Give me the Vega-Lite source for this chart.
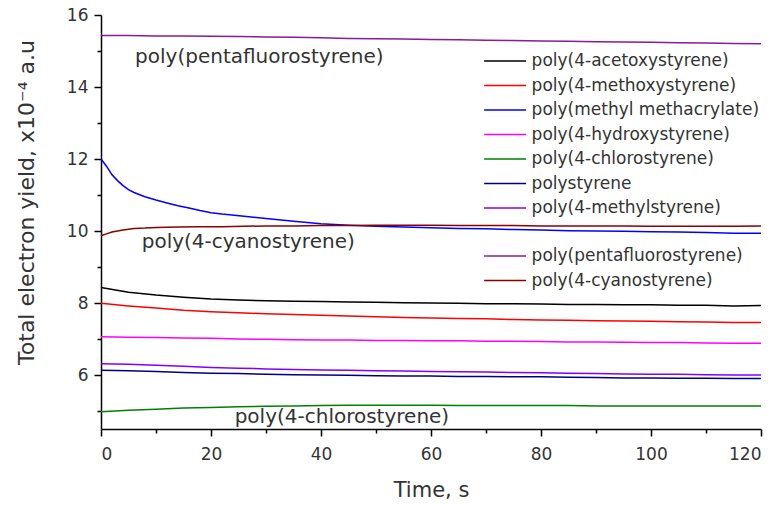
{
"$schema": "https://vega.github.io/schema/vega-lite/v6.json",
"width": 660, "height": 414,
"autosize": {"type": "none"},
"padding": {"left": 101, "top": 15, "right": 15, "bottom": 76},
"background": "white",
"config": {"view": {"stroke": null}, "font": "DejaVu Sans",
  "axis": {"grid": false, "domainColor": "black", "domainWidth": 1.5, "tickColor": "black", "tickWidth": 1.5, "labelFont": "DejaVu Sans", "labelFontSize": 17, "labelColor": "#333", "titleFont": "DejaVu Sans", "titleFontSize": 21, "titleFontWeight": "normal", "titleColor": "#333"}},
"datasets": {
"main": [
{"s":"poly(4-acetoxystyrene)","t":0,"v":8.43},{"s":"poly(4-acetoxystyrene)","t":5,"v":8.3},{"s":"poly(4-acetoxystyrene)","t":10,"v":8.22},{"s":"poly(4-acetoxystyrene)","t":15,"v":8.16},{"s":"poly(4-acetoxystyrene)","t":20,"v":8.11},{"s":"poly(4-acetoxystyrene)","t":25,"v":8.08},{"s":"poly(4-acetoxystyrene)","t":30,"v":8.06},{"s":"poly(4-acetoxystyrene)","t":35,"v":8.05},{"s":"poly(4-acetoxystyrene)","t":40,"v":8.04},{"s":"poly(4-acetoxystyrene)","t":45,"v":8.03},{"s":"poly(4-acetoxystyrene)","t":50,"v":8.02},{"s":"poly(4-acetoxystyrene)","t":55,"v":8.01},{"s":"poly(4-acetoxystyrene)","t":60,"v":8.0},{"s":"poly(4-acetoxystyrene)","t":65,"v":7.99},{"s":"poly(4-acetoxystyrene)","t":70,"v":7.98},{"s":"poly(4-acetoxystyrene)","t":75,"v":7.98},{"s":"poly(4-acetoxystyrene)","t":80,"v":7.97},{"s":"poly(4-acetoxystyrene)","t":85,"v":7.96},{"s":"poly(4-acetoxystyrene)","t":90,"v":7.96},{"s":"poly(4-acetoxystyrene)","t":95,"v":7.95},{"s":"poly(4-acetoxystyrene)","t":100,"v":7.95},{"s":"poly(4-acetoxystyrene)","t":105,"v":7.94},{"s":"poly(4-acetoxystyrene)","t":110,"v":7.94},{"s":"poly(4-acetoxystyrene)","t":115,"v":7.92},{"s":"poly(4-acetoxystyrene)","t":120,"v":7.93},
{"s":"poly(4-methoxystyrene)","t":0,"v":7.99},{"s":"poly(4-methoxystyrene)","t":5,"v":7.92},{"s":"poly(4-methoxystyrene)","t":10,"v":7.86},{"s":"poly(4-methoxystyrene)","t":15,"v":7.8},{"s":"poly(4-methoxystyrene)","t":20,"v":7.76},{"s":"poly(4-methoxystyrene)","t":25,"v":7.73},{"s":"poly(4-methoxystyrene)","t":30,"v":7.7},{"s":"poly(4-methoxystyrene)","t":35,"v":7.68},{"s":"poly(4-methoxystyrene)","t":40,"v":7.66},{"s":"poly(4-methoxystyrene)","t":45,"v":7.64},{"s":"poly(4-methoxystyrene)","t":50,"v":7.62},{"s":"poly(4-methoxystyrene)","t":55,"v":7.6},{"s":"poly(4-methoxystyrene)","t":60,"v":7.58},{"s":"poly(4-methoxystyrene)","t":65,"v":7.57},{"s":"poly(4-methoxystyrene)","t":70,"v":7.56},{"s":"poly(4-methoxystyrene)","t":75,"v":7.54},{"s":"poly(4-methoxystyrene)","t":80,"v":7.53},{"s":"poly(4-methoxystyrene)","t":85,"v":7.52},{"s":"poly(4-methoxystyrene)","t":90,"v":7.51},{"s":"poly(4-methoxystyrene)","t":95,"v":7.5},{"s":"poly(4-methoxystyrene)","t":100,"v":7.49},{"s":"poly(4-methoxystyrene)","t":105,"v":7.48},{"s":"poly(4-methoxystyrene)","t":110,"v":7.47},{"s":"poly(4-methoxystyrene)","t":115,"v":7.46},{"s":"poly(4-methoxystyrene)","t":120,"v":7.46},
{"s":"poly(methyl methacrylate)","t":0,"v":12.0},{"s":"poly(methyl methacrylate)","t":1,"v":11.8},{"s":"poly(methyl methacrylate)","t":2,"v":11.56},{"s":"poly(methyl methacrylate)","t":3,"v":11.4},{"s":"poly(methyl methacrylate)","t":4,"v":11.26},{"s":"poly(methyl methacrylate)","t":5,"v":11.15},{"s":"poly(methyl methacrylate)","t":6,"v":11.07},{"s":"poly(methyl methacrylate)","t":8,"v":10.95},{"s":"poly(methyl methacrylate)","t":10,"v":10.86},{"s":"poly(methyl methacrylate)","t":12,"v":10.78},{"s":"poly(methyl methacrylate)","t":14,"v":10.7},{"s":"poly(methyl methacrylate)","t":16,"v":10.64},{"s":"poly(methyl methacrylate)","t":18,"v":10.57},{"s":"poly(methyl methacrylate)","t":20,"v":10.51},{"s":"poly(methyl methacrylate)","t":22,"v":10.47},{"s":"poly(methyl methacrylate)","t":26,"v":10.41},{"s":"poly(methyl methacrylate)","t":30,"v":10.35},{"s":"poly(methyl methacrylate)","t":35,"v":10.27},{"s":"poly(methyl methacrylate)","t":40,"v":10.2},{"s":"poly(methyl methacrylate)","t":45,"v":10.16},{"s":"poly(methyl methacrylate)","t":50,"v":10.13},{"s":"poly(methyl methacrylate)","t":55,"v":10.11},{"s":"poly(methyl methacrylate)","t":60,"v":10.09},{"s":"poly(methyl methacrylate)","t":65,"v":10.07},{"s":"poly(methyl methacrylate)","t":70,"v":10.06},{"s":"poly(methyl methacrylate)","t":75,"v":10.04},{"s":"poly(methyl methacrylate)","t":80,"v":10.03},{"s":"poly(methyl methacrylate)","t":85,"v":10.01},{"s":"poly(methyl methacrylate)","t":90,"v":10.0},{"s":"poly(methyl methacrylate)","t":95,"v":9.99},{"s":"poly(methyl methacrylate)","t":100,"v":9.98},{"s":"poly(methyl methacrylate)","t":105,"v":9.97},{"s":"poly(methyl methacrylate)","t":110,"v":9.96},{"s":"poly(methyl methacrylate)","t":115,"v":9.94},{"s":"poly(methyl methacrylate)","t":120,"v":9.94},
{"s":"poly(4-hydroxystyrene)","t":0,"v":7.06},{"s":"poly(4-hydroxystyrene)","t":5,"v":7.05},{"s":"poly(4-hydroxystyrene)","t":10,"v":7.04},{"s":"poly(4-hydroxystyrene)","t":15,"v":7.03},{"s":"poly(4-hydroxystyrene)","t":20,"v":7.02},{"s":"poly(4-hydroxystyrene)","t":25,"v":7.0},{"s":"poly(4-hydroxystyrene)","t":30,"v":6.99},{"s":"poly(4-hydroxystyrene)","t":35,"v":6.98},{"s":"poly(4-hydroxystyrene)","t":40,"v":6.97},{"s":"poly(4-hydroxystyrene)","t":45,"v":6.97},{"s":"poly(4-hydroxystyrene)","t":50,"v":6.96},{"s":"poly(4-hydroxystyrene)","t":55,"v":6.96},{"s":"poly(4-hydroxystyrene)","t":60,"v":6.95},{"s":"poly(4-hydroxystyrene)","t":65,"v":6.95},{"s":"poly(4-hydroxystyrene)","t":70,"v":6.94},{"s":"poly(4-hydroxystyrene)","t":75,"v":6.94},{"s":"poly(4-hydroxystyrene)","t":80,"v":6.93},{"s":"poly(4-hydroxystyrene)","t":85,"v":6.92},{"s":"poly(4-hydroxystyrene)","t":90,"v":6.92},{"s":"poly(4-hydroxystyrene)","t":95,"v":6.91},{"s":"poly(4-hydroxystyrene)","t":100,"v":6.9},{"s":"poly(4-hydroxystyrene)","t":105,"v":6.9},{"s":"poly(4-hydroxystyrene)","t":110,"v":6.89},{"s":"poly(4-hydroxystyrene)","t":115,"v":6.88},{"s":"poly(4-hydroxystyrene)","t":120,"v":6.88},
{"s":"poly(4-chlorostyrene)","t":0,"v":4.98},{"s":"poly(4-chlorostyrene)","t":5,"v":5.02},{"s":"poly(4-chlorostyrene)","t":10,"v":5.05},{"s":"poly(4-chlorostyrene)","t":15,"v":5.08},{"s":"poly(4-chlorostyrene)","t":20,"v":5.1},{"s":"poly(4-chlorostyrene)","t":25,"v":5.12},{"s":"poly(4-chlorostyrene)","t":30,"v":5.13},{"s":"poly(4-chlorostyrene)","t":35,"v":5.14},{"s":"poly(4-chlorostyrene)","t":40,"v":5.15},{"s":"poly(4-chlorostyrene)","t":45,"v":5.16},{"s":"poly(4-chlorostyrene)","t":50,"v":5.16},{"s":"poly(4-chlorostyrene)","t":55,"v":5.16},{"s":"poly(4-chlorostyrene)","t":60,"v":5.16},{"s":"poly(4-chlorostyrene)","t":65,"v":5.15},{"s":"poly(4-chlorostyrene)","t":70,"v":5.15},{"s":"poly(4-chlorostyrene)","t":75,"v":5.15},{"s":"poly(4-chlorostyrene)","t":80,"v":5.15},{"s":"poly(4-chlorostyrene)","t":85,"v":5.15},{"s":"poly(4-chlorostyrene)","t":90,"v":5.14},{"s":"poly(4-chlorostyrene)","t":95,"v":5.14},{"s":"poly(4-chlorostyrene)","t":100,"v":5.14},{"s":"poly(4-chlorostyrene)","t":105,"v":5.14},{"s":"poly(4-chlorostyrene)","t":110,"v":5.14},{"s":"poly(4-chlorostyrene)","t":115,"v":5.14},{"s":"poly(4-chlorostyrene)","t":120,"v":5.14},
{"s":"polystyrene","t":0,"v":6.13},{"s":"polystyrene","t":5,"v":6.12},{"s":"polystyrene","t":10,"v":6.1},{"s":"polystyrene","t":15,"v":6.07},{"s":"polystyrene","t":20,"v":6.05},{"s":"polystyrene","t":25,"v":6.04},{"s":"polystyrene","t":30,"v":6.02},{"s":"polystyrene","t":35,"v":6.01},{"s":"polystyrene","t":40,"v":6.0},{"s":"polystyrene","t":45,"v":5.99},{"s":"polystyrene","t":50,"v":5.98},{"s":"polystyrene","t":55,"v":5.97},{"s":"polystyrene","t":60,"v":5.97},{"s":"polystyrene","t":65,"v":5.96},{"s":"polystyrene","t":70,"v":5.96},{"s":"polystyrene","t":75,"v":5.95},{"s":"polystyrene","t":80,"v":5.95},{"s":"polystyrene","t":85,"v":5.94},{"s":"polystyrene","t":90,"v":5.93},{"s":"polystyrene","t":95,"v":5.92},{"s":"polystyrene","t":100,"v":5.92},{"s":"polystyrene","t":105,"v":5.91},{"s":"polystyrene","t":110,"v":5.91},{"s":"polystyrene","t":115,"v":5.9},{"s":"polystyrene","t":120,"v":5.9},
{"s":"poly(4-methylstyrene)","t":0,"v":6.31},{"s":"poly(4-methylstyrene)","t":5,"v":6.3},{"s":"poly(4-methylstyrene)","t":10,"v":6.27},{"s":"poly(4-methylstyrene)","t":15,"v":6.24},{"s":"poly(4-methylstyrene)","t":20,"v":6.21},{"s":"poly(4-methylstyrene)","t":25,"v":6.19},{"s":"poly(4-methylstyrene)","t":30,"v":6.17},{"s":"poly(4-methylstyrene)","t":35,"v":6.15},{"s":"poly(4-methylstyrene)","t":40,"v":6.14},{"s":"poly(4-methylstyrene)","t":45,"v":6.13},{"s":"poly(4-methylstyrene)","t":50,"v":6.12},{"s":"poly(4-methylstyrene)","t":55,"v":6.11},{"s":"poly(4-methylstyrene)","t":60,"v":6.1},{"s":"poly(4-methylstyrene)","t":65,"v":6.09},{"s":"poly(4-methylstyrene)","t":70,"v":6.08},{"s":"poly(4-methylstyrene)","t":75,"v":6.07},{"s":"poly(4-methylstyrene)","t":80,"v":6.06},{"s":"poly(4-methylstyrene)","t":85,"v":6.05},{"s":"poly(4-methylstyrene)","t":90,"v":6.04},{"s":"poly(4-methylstyrene)","t":95,"v":6.03},{"s":"poly(4-methylstyrene)","t":100,"v":6.02},{"s":"poly(4-methylstyrene)","t":105,"v":6.02},{"s":"poly(4-methylstyrene)","t":110,"v":6.01},{"s":"poly(4-methylstyrene)","t":115,"v":6.0},{"s":"poly(4-methylstyrene)","t":120,"v":6.0}
],
"extra": [
{"s":"poly(pentafluorostyrene)","t":0,"v":15.43},{"s":"poly(pentafluorostyrene)","t":5,"v":15.43},{"s":"poly(pentafluorostyrene)","t":10,"v":15.42},{"s":"poly(pentafluorostyrene)","t":15,"v":15.42},{"s":"poly(pentafluorostyrene)","t":20,"v":15.41},{"s":"poly(pentafluorostyrene)","t":25,"v":15.4},{"s":"poly(pentafluorostyrene)","t":30,"v":15.39},{"s":"poly(pentafluorostyrene)","t":35,"v":15.38},{"s":"poly(pentafluorostyrene)","t":40,"v":15.37},{"s":"poly(pentafluorostyrene)","t":45,"v":15.35},{"s":"poly(pentafluorostyrene)","t":50,"v":15.34},{"s":"poly(pentafluorostyrene)","t":55,"v":15.33},{"s":"poly(pentafluorostyrene)","t":60,"v":15.32},{"s":"poly(pentafluorostyrene)","t":65,"v":15.31},{"s":"poly(pentafluorostyrene)","t":70,"v":15.3},{"s":"poly(pentafluorostyrene)","t":75,"v":15.29},{"s":"poly(pentafluorostyrene)","t":80,"v":15.28},{"s":"poly(pentafluorostyrene)","t":85,"v":15.27},{"s":"poly(pentafluorostyrene)","t":90,"v":15.26},{"s":"poly(pentafluorostyrene)","t":95,"v":15.25},{"s":"poly(pentafluorostyrene)","t":100,"v":15.24},{"s":"poly(pentafluorostyrene)","t":105,"v":15.23},{"s":"poly(pentafluorostyrene)","t":110,"v":15.22},{"s":"poly(pentafluorostyrene)","t":115,"v":15.21},{"s":"poly(pentafluorostyrene)","t":120,"v":15.2},
{"s":"poly(4-cyanostyrene)","t":0,"v":9.87},{"s":"poly(4-cyanostyrene)","t":1,"v":9.92},{"s":"poly(4-cyanostyrene)","t":2,"v":9.97},{"s":"poly(4-cyanostyrene)","t":3,"v":10.0},{"s":"poly(4-cyanostyrene)","t":4,"v":10.03},{"s":"poly(4-cyanostyrene)","t":6,"v":10.07},{"s":"poly(4-cyanostyrene)","t":8,"v":10.08},{"s":"poly(4-cyanostyrene)","t":10,"v":10.1},{"s":"poly(4-cyanostyrene)","t":14,"v":10.11},{"s":"poly(4-cyanostyrene)","t":18,"v":10.12},{"s":"poly(4-cyanostyrene)","t":22,"v":10.12},{"s":"poly(4-cyanostyrene)","t":26,"v":10.13},{"s":"poly(4-cyanostyrene)","t":30,"v":10.14},{"s":"poly(4-cyanostyrene)","t":35,"v":10.14},{"s":"poly(4-cyanostyrene)","t":40,"v":10.15},{"s":"poly(4-cyanostyrene)","t":45,"v":10.15},{"s":"poly(4-cyanostyrene)","t":50,"v":10.16},{"s":"poly(4-cyanostyrene)","t":55,"v":10.16},{"s":"poly(4-cyanostyrene)","t":60,"v":10.16},{"s":"poly(4-cyanostyrene)","t":65,"v":10.15},{"s":"poly(4-cyanostyrene)","t":70,"v":10.15},{"s":"poly(4-cyanostyrene)","t":75,"v":10.15},{"s":"poly(4-cyanostyrene)","t":80,"v":10.14},{"s":"poly(4-cyanostyrene)","t":85,"v":10.14},{"s":"poly(4-cyanostyrene)","t":90,"v":10.14},{"s":"poly(4-cyanostyrene)","t":95,"v":10.14},{"s":"poly(4-cyanostyrene)","t":100,"v":10.13},{"s":"poly(4-cyanostyrene)","t":105,"v":10.13},{"s":"poly(4-cyanostyrene)","t":110,"v":10.13},{"s":"poly(4-cyanostyrene)","t":115,"v":10.13},{"s":"poly(4-cyanostyrene)","t":120,"v":10.14}
],
"notes": [
{"label":"poly(pentafluorostyrene)","t":6.2,"v":14.83},
{"label":"poly(4-cyanostyrene)","t":7.4,"v":9.69},
{"label":"poly(4-chlorostyrene)","t":24.3,"v":4.83}
]
},
"layer": [
{"data": {"name": "main"},
 "mark": {"type": "line", "strokeWidth": 1.5},
 "encoding": {
  "x": {"field": "t", "type": "quantitative", "scale": {"domain": [0, 120], "nice": false, "zero": false},
        "axis": {"orient": "bottom", "values": [0,20,40,60,80,100,120], "tickSize": 7, "labelPadding": 10, "title": "Time, s", "titleX": 330, "titleY": 61, "titleAlign": "center", "titleBaseline": "middle"}},
  "y": {"field": "v", "type": "quantitative", "scale": {"domain": [4.5, 16], "nice": false, "zero": false},
        "axis": {"orient": "left", "values": [6,8,10,12,14,16], "tickSize": 7, "labelPadding": 6, "title": "Total electron yield, x10⁻⁴ a.u", "titleFontSize": 22, "titleX": -75, "titleY": 187, "titleAngle": -90, "titleAlign": "center", "titleBaseline": "middle"}},
  "color": {"field": "s", "type": "nominal",
    "scale": {"domain": ["poly(4-acetoxystyrene)","poly(4-methoxystyrene)","poly(methyl methacrylate)","poly(4-hydroxystyrene)","poly(4-chlorostyrene)","polystyrene","poly(4-methylstyrene)"],
              "range": ["#000000","#ff0000","#0000ff","#ff00ff","#008000","#000080","#8000ff"]},
    "legend": {"orient": "none", "legendX": 394.6, "legendY": 36.5, "title": null, "padding": 0, "symbolType": "M-2.5,0H2.5", "symbolSize": 282, "symbolStrokeWidth": 1.5, "rowPadding": 6.5, "labelOffset": 17, "labelFont": "DejaVu Sans", "labelFontSize": 17, "labelColor": "#333", "labelLimit": 400}}
 }},
{"data": {"name": "extra"},
 "mark": {"type": "line", "strokeWidth": 1.5},
 "encoding": {
  "x": {"field": "t", "type": "quantitative", "scale": {"domain": [0, 120], "nice": false, "zero": false}, "axis": null},
  "y": {"field": "v", "type": "quantitative", "scale": {"domain": [4.5, 16], "nice": false, "zero": false}, "axis": null},
  "color": {"field": "s", "type": "nominal",
    "scale": {"domain": ["poly(pentafluorostyrene)","poly(4-cyanostyrene)"], "range": ["#8a1a9a","#8b0000"]},
    "legend": {"orient": "none", "legendX": 394.6, "legendY": 231.5, "title": null, "padding": 0, "symbolType": "M-2.5,0H2.5", "symbolSize": 282, "symbolStrokeWidth": 1.5, "rowPadding": 6.5, "labelOffset": 17, "labelFont": "DejaVu Sans", "labelFontSize": 17, "labelColor": "#333", "labelLimit": 400}}
 }},
{"data": {"name": "notes"},
 "mark": {"type": "text", "align": "left", "baseline": "middle", "font": "DejaVu Sans", "fontSize": 20, "color": "#333"},
 "encoding": {
  "x": {"field": "t", "type": "quantitative", "scale": {"domain": [0, 120], "nice": false, "zero": false},
        "axis": {"orient": "bottom", "values": [10,30,50,70,90,110], "tickSize": 4, "labels": false, "domain": false, "title": null}},
  "y": {"field": "v", "type": "quantitative", "scale": {"domain": [4.5, 16], "nice": false, "zero": false},
        "axis": {"orient": "left", "values": [5,7,9,11,13,15], "tickSize": 4, "labels": false, "domain": false, "title": null}},
  "text": {"field": "label"}
 }}
],
"resolve": {"scale": {"color": "independent"}, "axis": {"x": "independent", "y": "independent"}}
}
